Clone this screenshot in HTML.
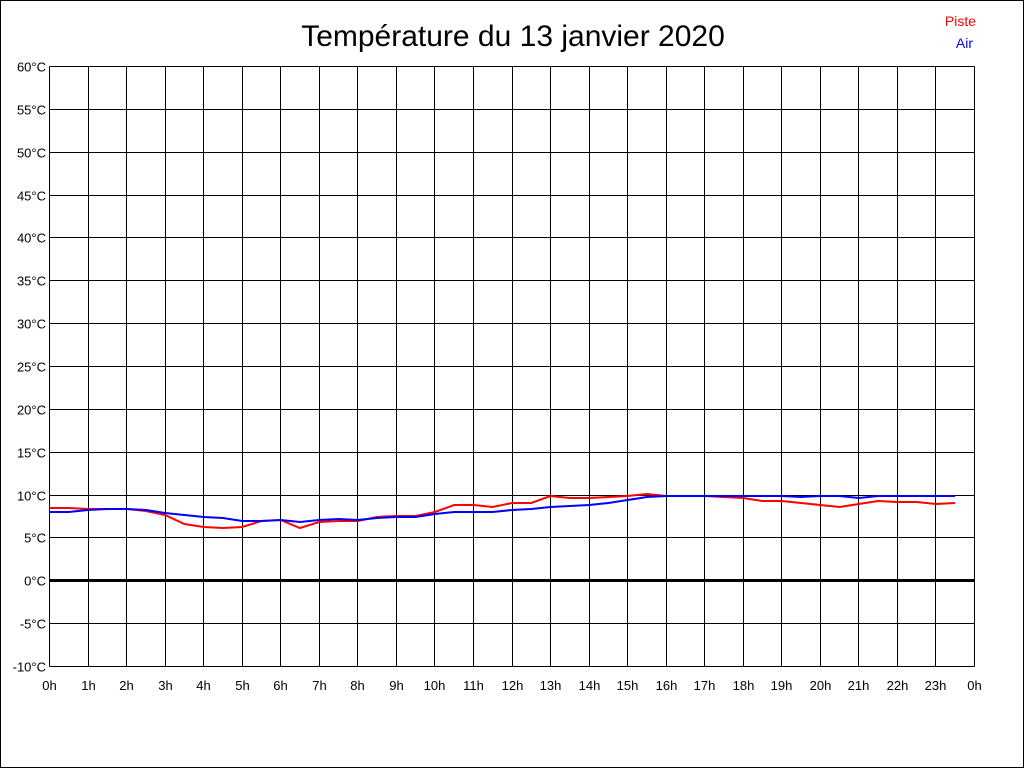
<!DOCTYPE html>
<html><head><meta charset="utf-8"><style>
html,body{margin:0;padding:0;background:#fff}
svg{display:block}
text{font-family:"Liberation Sans",Arial,sans-serif}
</style></head><body>
<svg id="s" width="1024" height="768" xmlns="http://www.w3.org/2000/svg">
<rect x="0.5" y="0.5" width="1023" height="767" fill="#fff" stroke="#000"/>
<text x="513" y="46" font-size="30" text-anchor="middle">Température du 13 janvier 2020</text>
<text x="976" y="26" font-size="14" fill="#f00" text-anchor="end">Piste</text>
<text x="973" y="48" font-size="14" fill="#00f" text-anchor="end">Air</text>
<g id="g"></g>
</svg>
<script>
var g=document.getElementById('g'),h='';
var L=49.5,R=974.5,T=66.5,B=666.5,dx=(R-L)/24,dy=(B-T)/14;
for(var i=0;i<=24;i++){var x=Math.round(49+i*dx)+0.5;h+='<line x1="'+x+'" y1="'+T+'" x2="'+x+'" y2="'+B+'" stroke="#000" shape-rendering="crispEdges"/>';
h+='<text x="'+x+'" y="690" font-size="13" text-anchor="middle">'+(i%24)+'h</text>';}
for(var j=0;j<=14;j++){var y=Math.round(66+j*dy)+0.5;var v=60-5*j;h+='<line x1="'+L+'" y1="'+y+'" x2="'+R+'" y2="'+y+'" stroke="#000" shape-rendering="crispEdges" stroke-width="'+(v==0?3:1)+'"/>';
h+='<text x="46" y="'+(y+5)+'" font-size="13" text-anchor="end">'+v+'°C</text>';}
var red=[508,508,509,509,509,511,515,524,527,528,527,521,520,528,522,521,521,517,516,516,512,505,505,507,503,503,496,498,498,497,496,494,496,496,496,497,498,501,501,503,505,507,504,501,502,502,504,503];
var blue=[512,512,510,509,509,510,513,515,517,518,521,521,520,522,520,519,520,518,517,517,514,512,512,512,510,509,507,506,505,503,500,497,496,496,496,496,496,496,496,497,496,496,498,496,496,496,496,496];
function pl(a,c){var p=[];for(var k=0;k<a.length;k++)p.push((L+k*dx/2).toFixed(1)+','+a[k]);return '<polyline points="'+p.join(' ')+'" fill="none" stroke="'+c+'" stroke-width="2"/>';}
h+=pl(red,'#f00')+pl(blue,'#00f');
g.innerHTML=h;
</script>
</body></html>
